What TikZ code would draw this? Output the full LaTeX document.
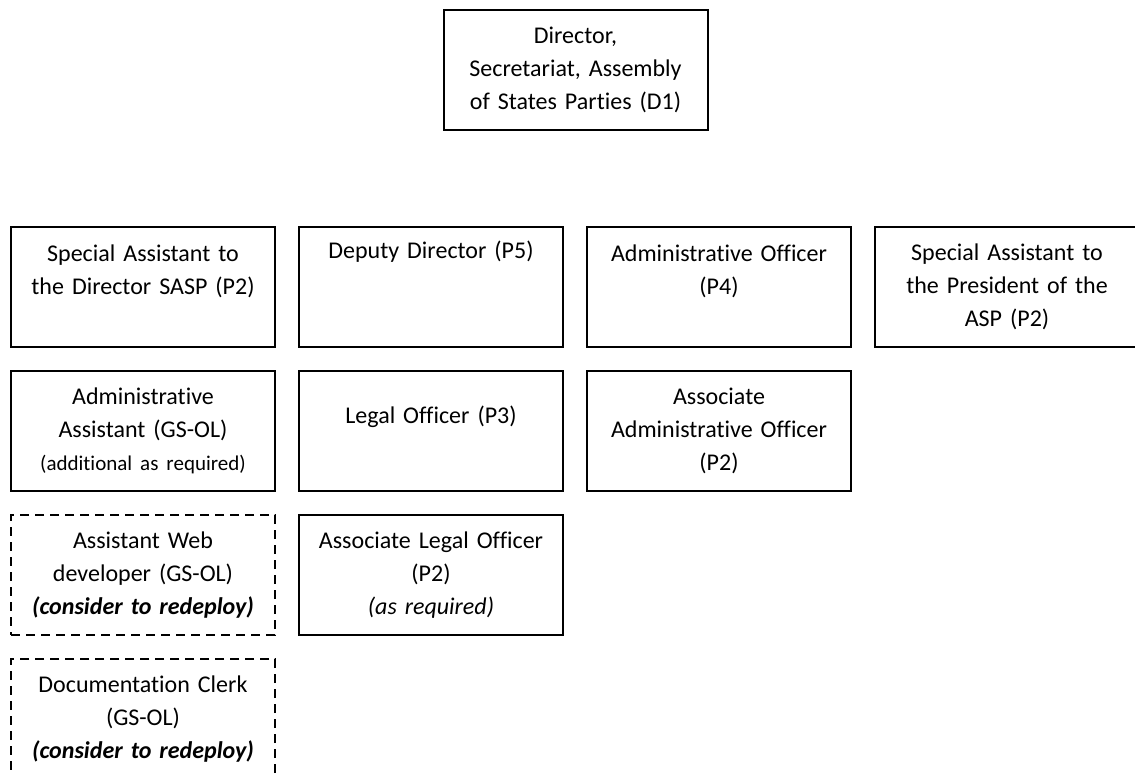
\documentclass[tikz,border=0pt]{standalone}
\usepackage{fontspec}
\setmainfont{Carlito}[Ligatures={NoCommon}]

\begin{document}
\begin{tikzpicture}[x=0.5pt,y=-0.5pt,
  post/.style={draw=black,line width=1pt,minimum width=132pt,minimum height=60pt,
    text width=124pt,align=center,inner sep=2pt,font=\fontsize{12}{16.4}\selectfont},
  vacant/.style={post,dash pattern=on 4.5pt off 3pt}]
\useasboundingbox (0,0) rectangle (1135,776);
\node[post] (dir) at (575.5,70) {Director,\\Secretariat, Assembly\\of States Parties (D1)};
% first row
\node[post] (sasp) at (143,287) {\rule{0pt}{12pt}Special Assistant to\\the Director SASP (P2)\\ \strut};
\node[post] (deputy) at (431,287) {Deputy Director (P5)\\ \strut\\ \strut};
\node[post] (admoff) at (719,287) {\rule{0pt}{12pt}Administrative Officer\\(P4)\\ \strut};
\node[post] (pres) at (1007,287) {Special Assistant to\\the President of the\\ASP (P2)};
% second row
\node[post] (admass) at (143,431) {Administrative\\Assistant (GS-OL)\\{\fontsize{10.5}{16.4}\selectfont (additional as required)}};
\node[post] (legal) at (431,431) {\rule{0pt}{14pt}Legal Officer (P3)\\ \strut};
\node[post] (assadm) at (719,431) {Associate\\Administrative Officer\\(P2)};
% third and fourth row
\node[vacant] (web) at (143,575) {Assistant Web\\developer (GS-OL)\\\textbf{\textit{(consider to redeploy)}}};
\node[post] (asslegal) at (431,575) {Associate Legal Officer\\(P2)\\\textit{(as required)}};
\node[vacant] (clerk) at (143,719) {Documentation Clerk\\(GS-OL)\\\textbf{\textit{(consider to redeploy)}}};
\end{tikzpicture}
\end{document}
